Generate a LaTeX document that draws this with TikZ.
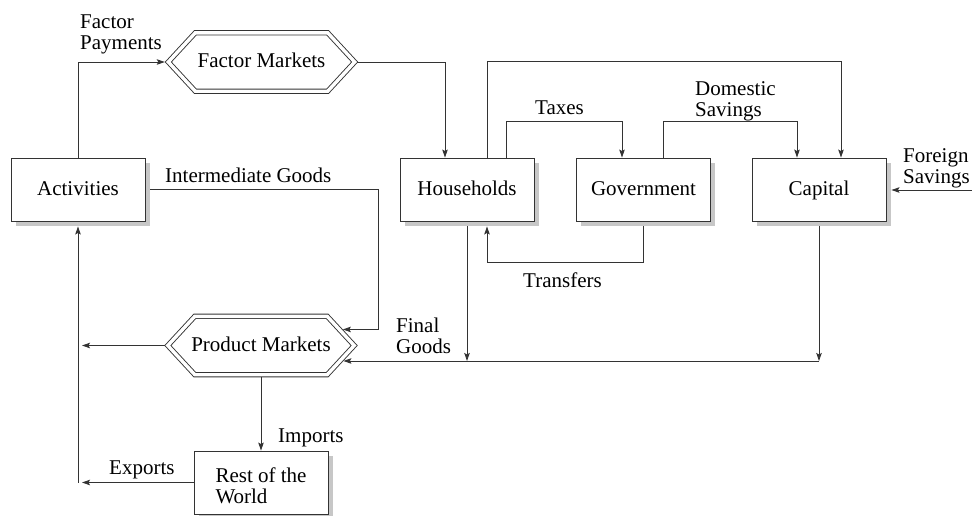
\documentclass[tikz,border=0pt]{standalone}
\usepackage{fontspec}
\setmainfont{Liberation Serif}
\usetikzlibrary{arrows.meta,calc,shadows}
\pgfdeclarelayer{bg}
\pgfsetlayers{bg,main}
\begin{document}
\begin{tikzpicture}[x=1pt,y=-1pt,
  lbl/.style={font=\fontsize{21}{21}\selectfont, inner sep=0pt},
  box/.style={draw=black!80, line width=0.9pt, fill=white, minimum width=134pt, minimum height=63pt,
    inner sep=0pt, text height=15pt, text depth=4pt, font=\fontsize{21}{21.5}\selectfont,
    drop shadow={shadow xshift=4.5pt, shadow yshift=-4.5pt, fill=black!22, opacity=1}},
  hex/.style={minimum width=186pt, minimum height=58pt, inner sep=0pt, text height=15pt, text depth=4pt,
    font=\fontsize{21}{21}\selectfont},
  hexline/.style={draw=black!80, line width=0.9pt, double=white, double distance=3.4pt},
  conn/.style={draw=black!80, line width=0.9pt},
  arr/.style={conn, -{Stealth[length=8pt,width=5.5pt,inset=1.5pt]}},
]
\useasboundingbox (0,0) rectangle (972,515);

% boxes
\node[box] (act) at (78,189.5) {Activities};
\node[box] (hh) at (467,189.5) {Households};
\node[box] (gov) at (643.5,189.5) {Government};
\node[box] (cap) at (819,189.5) {Capital};
\node[box, text height=42pt, text depth=0pt, align=left] (rw) at (261,482.5) {Rest of the\\World};

% hexagon markets
\node[hex] (fm) at (261.5,62) {Factor Markets};
\node[hex] (pm) at (261,345.5) {Product Markets};
\draw[hexline] (fm.west) -- ([xshift=27pt]fm.north west) -- ([xshift=-27pt]fm.north east) -- (fm.east)
  -- ([xshift=-27pt]fm.south east) -- ([xshift=27pt]fm.south west) -- cycle;
\draw[hexline] (pm.west) -- ([xshift=27pt]pm.north west) -- ([xshift=-27pt]pm.north east) -- (pm.east)
  -- ([xshift=-27pt]pm.south east) -- ([xshift=27pt]pm.south west) -- cycle;

% labels
\node[lbl, anchor=north west, align=left] (tfp) at (80,15) {Factor\\Payments};
\node[lbl, anchor=base west] (tig) at (165,182) {Intermediate Goods};
\node[lbl, anchor=base west] (ttx) at (535,114) {Taxes};
\node[lbl, anchor=north west, align=left] (tds) at (695,81) {Domestic\\Savings};
\node[lbl, anchor=north west, align=left] (tfs) at (903,148) {Foreign\\Savings};
\node[lbl, anchor=base west] (ttr) at (523,287) {Transfers};
\node[lbl, anchor=north west, align=left] (tfg) at (396,318) {Final\\Goods};
\node[lbl, anchor=base west] (tim) at (278,442) {Imports};
\node[lbl, anchor=base west] (tex) at (109,474) {Exports};

% free ends and border points
\coordinate (ig) at ($(pm.east)!0.55!([xshift=-27pt]pm.north east)$);
\coordinate (fg) at ($(pm.east)!0.53!([xshift=-27pt]pm.south east)$);
\coordinate (fsrc) at (972,190);
\coordinate (lft) at (82,345.5);
\coordinate (exend) at (82,482.5);
\coordinate (vb) at (78,482.5);

\begin{pgfonlayer}{bg}
\draw[arr, shorten >=3.5pt] (act.north) |- (fm.west);
\draw[arr] (fm.east) -| ([xshift=-22pt]hh.north);
\draw[arr] ([xshift=20pt]hh.north) -- ++(0,-96) -| ([xshift=22pt]cap.north);
\draw[arr] ([xshift=39pt]hh.north) -- ++(0,-36) -| ([xshift=-21.5pt]gov.north);
\draw[arr] ([xshift=19.5pt]gov.north) -- ++(0,-36) -| ([xshift=-22pt]cap.north);
\draw[arr, shorten >=5pt] (gov.south) -- ++(0,41) -| ([xshift=20pt]hh.south);
\draw[arr, shorten >=5pt] (fsrc) -- (fsrc -| cap.east);
\draw[arr, shorten >=3.5pt] (act.east) -- ++(233,0) |- (ig);
\draw[arr] (hh.south) -- (hh.south |- fg);
\draw[arr] (cap.south) -- (cap.south |- fg);
\draw[arr, shorten >=3.5pt] (cap.south |- fg) -- (fg);
\draw[arr] (pm.west) -- (lft);
\draw[arr] (pm.south) -- (rw.north);
\draw[arr] (rw.west) -- (exend);
\draw[arr, shorten >=5pt] (vb) -- (vb |- act.south);
\end{pgfonlayer}
\end{tikzpicture}
\end{document}
